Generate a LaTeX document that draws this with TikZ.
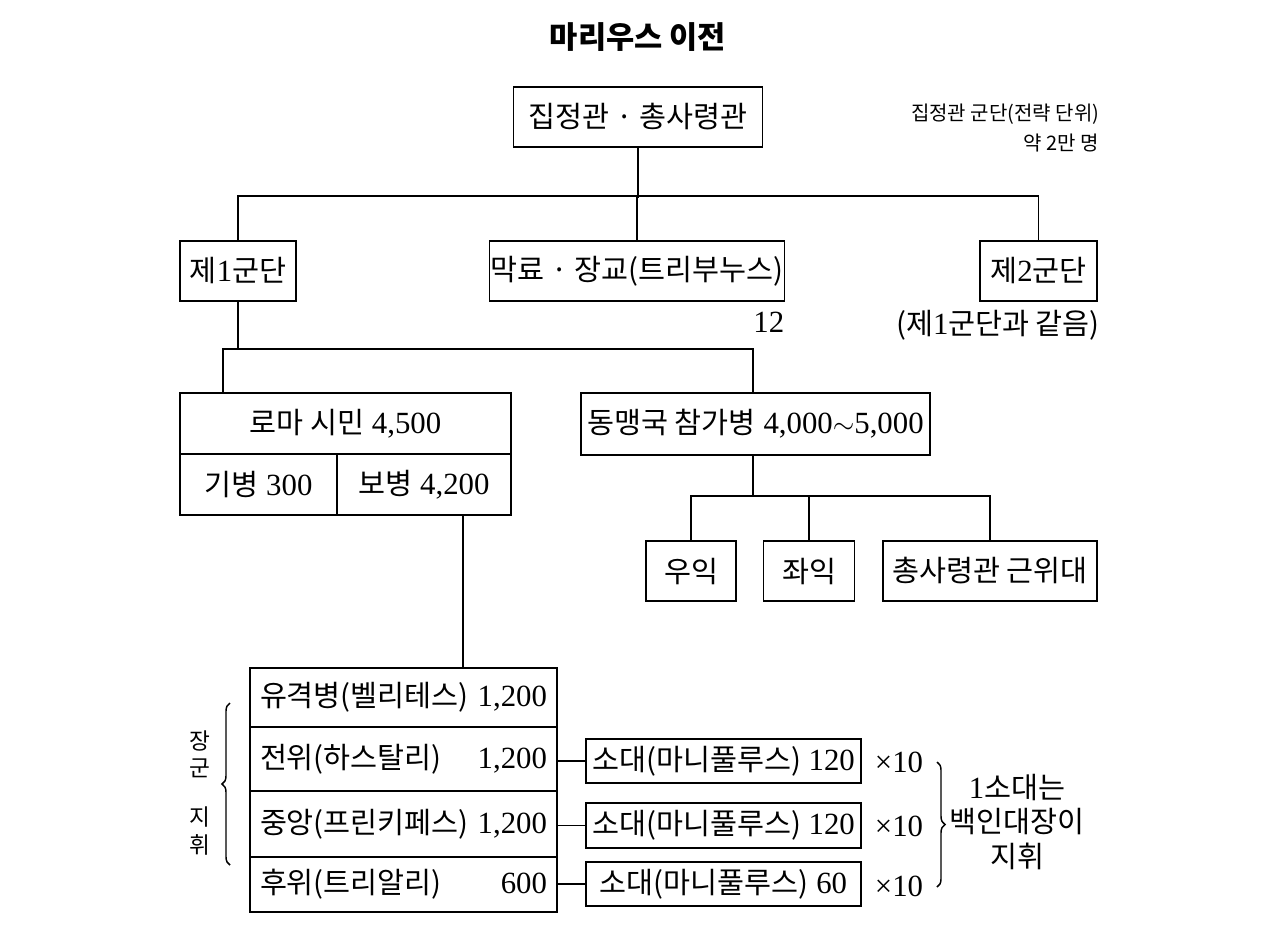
\documentclass[tikz,border=0pt]{standalone}
\usepackage{fontspec}
\setmainfont{Liberation Serif}[Scale=1.05]
\newfontfamily\kr{Noto Sans CJK KR}
\usetikzlibrary{decorations.pathreplacing}
\newcommand\bodyfs{\fontsize{22pt}{26pt}\selectfont}
\newcommand\rowtext[2]{\hbox to 215.25pt{{\kr #1}\hfill #2}}
\begin{document}
\begin{tikzpicture}[x=0.75pt,y=-0.75pt,line width=1.25pt,
  bx/.style={draw,inner sep=0pt,font=\bodyfs,align=center},
  lbl/.style={inner sep=0pt,font=\bodyfs},
  brc/.style={decorate,decoration={brace,amplitude=6pt},line width=1.1pt}]
\useasboundingbox (0,0) rectangle (1280,933);
% title
\node[inner sep=0pt,font=\kr\bfseries\fontsize{23pt}{27pt}\selectfont] (title) at (638,37) {마리우스 이전};
% note
\node[inner sep=0pt,anchor=east,align=right,font=\kr\fontsize{15pt}{22.5pt}\selectfont] (note) at (1100,128) {집정관 군단(전략 단위)\\약 2만 명};
% level 0
\node[bx,minimum width=186.75pt,minimum height=45pt] (top) at (638,117) {\kr 집정관 · 총사령관};
% level 1
\node[bx,minimum width=87pt,minimum height=45pt] (leg1) at (238,271) {{\kr 제}1{\kr 군단}};
\node[bx,minimum width=221.25pt,minimum height=45pt] (staff) at (637,271) {\kr 막료 · 장교(트리부누스)};
\node[bx,minimum width=87.75pt,minimum height=45pt] (leg2) at (1038.5,271) {{\kr 제}2{\kr 군단}};
\node[lbl,anchor=east] (twelve) at (785,322) {12};
\node[lbl] (same) at (998,325) {{\kr (제}1{\kr 군단과 같음)}};
% connectors level 0-1
\draw (top.south) -- ++(0,50);
\draw (leg1.north) -- ++(0,-44) -| (leg2.north);
\draw (staff.north) -- ++(0,-44);
% level 2
\node[bx,minimum width=248.25pt,minimum height=45.75pt] (roma) at (345.5,423.5) {{\kr 로마 시민} 4,500};
\node[bx,minimum width=117.75pt,minimum height=45.75pt] (cav) at (258.5,484.5) {{\kr 기병} 300};
\node[bx,minimum width=130.5pt,minimum height=45.75pt] (inf) at (424,484.5) {{\kr 보병} 4,200};
\node[bx,minimum width=261.75pt,minimum height=46.5pt] (ally) at (755.5,424) {{\kr 동맹국 참가병} 4,000$\sim$5,000};
\coordinate (romaTop) at (223,393);
\coordinate (allyTop) at (753,393);
\coordinate (allyBot) at (753,455);
\coordinate (infBot) at (463,515);
\draw (leg1.south) -- ++(0,48);
\draw (romaTop) -- ++(0,-44) -| (allyTop);
% level 3
\node[bx,minimum width=67.5pt,minimum height=45pt] (rw) at (691,571) {\kr 우익};
\node[bx,minimum width=68.25pt,minimum height=45pt] (lw) at (809,571) {\kr 좌익};
\node[bx,minimum width=160.5pt,minimum height=45pt] (guard) at (990,571) {\kr 총사령관 근위대};
\draw (allyBot) -- ++(0,42);
\draw (rw.north) -- ++(0,-44) -| (guard.north);
\draw (lw.north) -- ++(0,-44);
% infantry table
\node[bx,minimum width=230.25pt,minimum height=44.25pt] (r1) at (403.5,697.5) {\rowtext{유격병(벨리테스)}{1,200}};
\node[bx,minimum width=230.25pt,minimum height=48pt] (r2) at (403.5,759) {\rowtext{전위(하스탈리)}{1,200}};
\node[bx,minimum width=230.25pt,minimum height=49.5pt] (r3) at (403.5,824) {\rowtext{중앙(프린키페스)}{1,200}};
\node[bx,minimum width=230.25pt,minimum height=41.25pt] (r4) at (403.5,884.5) {\rowtext{후위(트리알리)}{600}};
\draw (infBot) -- (infBot |- r1.north);
% brace left
\draw[brc] (230,865) -- (230,703);
\node[lbl,font=\kr\fontsize{17pt}{20pt}\selectfont] (g1) at (200,741) {장};
\node[lbl,font=\kr\fontsize{17pt}{20pt}\selectfont] (g2) at (200,768) {군};
\node[lbl,font=\kr\fontsize{17pt}{20pt}\selectfont] (g3) at (200,817) {지};
\node[lbl,font=\kr\fontsize{17pt}{20pt}\selectfont] (g4) at (200,845) {휘};
% maniples
\node[bx,minimum width=206.25pt,minimum height=33pt] (s1) at (723.5,761) {{\kr 소대(마니풀루스)} 120};
\node[bx,minimum width=206.25pt,minimum height=33.75pt] (s2) at (723.5,825.5) {{\kr 소대(마니풀루스)} 120};
\node[bx,minimum width=206.25pt,minimum height=33pt] (s3) at (723.5,884) {{\kr 소대(마니풀루스)} 60};
\draw (s1.west) -- (s1.west -| r2.east);
\draw (s2.west) -- (s2.west -| r3.east);
\draw (s3.west) -- (s3.west -| r4.east);
\node[lbl] (t1) at (899,762) {×10};
\node[lbl] (t2) at (899,826) {×10};
\node[lbl] (t3) at (899,886) {×10};
\draw[brc] (937,762) -- (937,887);
\node[lbl,align=center] (cent) at (1017,822) {1{\kr 소대는}\\{\kr 백인대장이}\\{\kr 지휘}};
\end{tikzpicture}
\end{document}
